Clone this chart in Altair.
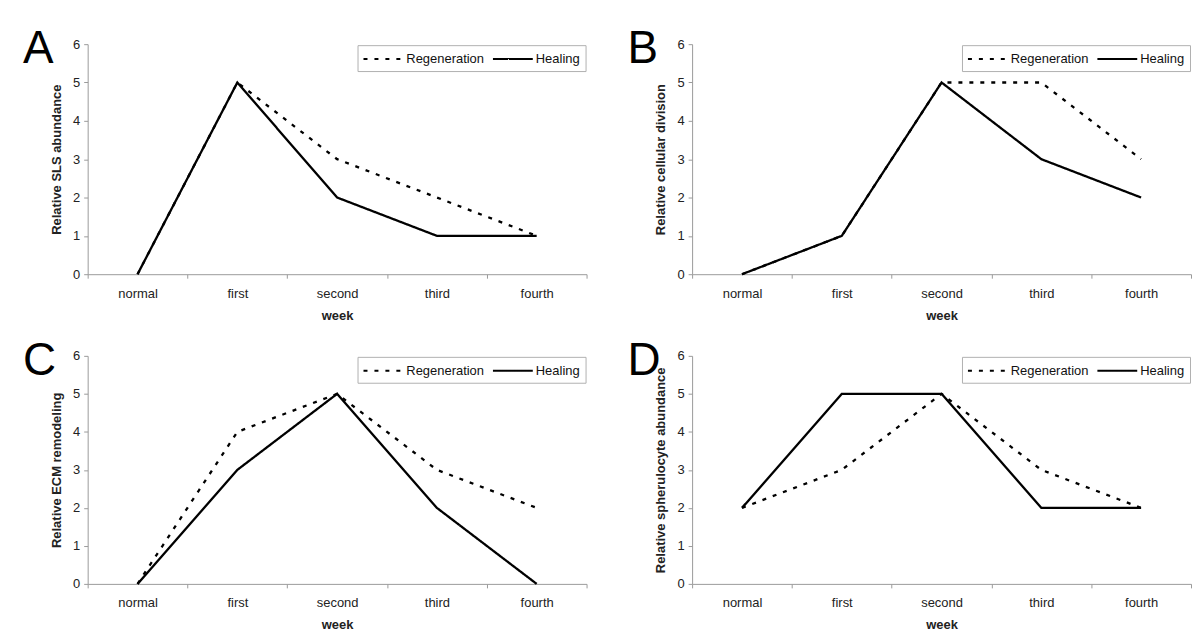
import altair as alt
import pandas as pd

weeks = ["normal", "first", "second", "third", "fourth"]
series_names = ["Regeneration", "Healing"]
letters = ["A", "B", "C", "D"]
y_titles = [
    "Relative SLS abundance",
    "Relative cellular division",
    "Relative ECM remodeling",
    "Relative spherulocyte abundance",
]

regen_A = [0, 5, 3, 2, 1]
heal_A = [0, 5, 2, 1, 1]
regen_B = [0, 1, 5, 5, 3]
heal_B = [0, 1, 5, 3, 2]
regen_C = [0, 4, 5, 3, 2]
heal_C = [0, 3, 5, 2, 0]
regen_D = [2, 3, 5, 3, 2]
heal_D = [2, 5, 5, 2, 2]

FONT = "Liberation Sans"
AXIS_GREY = "#9a9a9a"
FS = 13


def panel(letter, ytitle, regen, heal, height):
    df = pd.DataFrame({
        "week": weeks * 2,
        "value": regen + heal,
        "series": ["Regeneration"] * len(weeks) + ["Healing"] * len(weeks),
    })
    lines = alt.Chart(df).mark_line(color="black", strokeWidth=2.3).encode(
        x=alt.X(
            "week:N", sort=weeks,
            scale=alt.Scale(type="band", domain=weeks, paddingInner=0, paddingOuter=0),
            axis=alt.Axis(
                title="week", labelAngle=0, tickBand="extent",
                labelFont=FONT, labelFontSize=FS, labelColor="#222",
                titleFont=FONT, titleFontSize=FS, titleFontWeight="bold", titleColor="#222",
                domainColor=AXIS_GREY, tickColor=AXIS_GREY, tickSize=4,
                labelPadding=9, titlePadding=9, grid=False,
            ),
        ),
        y=alt.Y(
            "value:Q",
            scale=alt.Scale(domain=[0, 6], nice=False),
            axis=alt.Axis(
                title=ytitle, values=[0, 1, 2, 3, 4, 5, 6],
                labelFont=FONT, labelFontSize=FS, labelColor="#222",
                titleFont=FONT, titleFontSize=FS, titleFontWeight="bold", titleColor="#222",
                domainColor=AXIS_GREY, tickColor=AXIS_GREY, tickSize=4,
                labelPadding=4, titlePadding=9, grid=False,
            ),
        ),
        strokeDash=alt.StrokeDash(
            "series:N",
            scale=alt.Scale(domain=series_names, range=[[4, 7], [1, 0]]),
            legend=alt.Legend(
                title=None, orient="top-right", direction="horizontal",
                strokeColor="#b0b0b0", fillColor="white", padding=5, offset=1,
                labelFont=FONT, labelFontSize=FS, labelColor="#111",
                symbolType="M-1,0H4", symbolSize=256, symbolStrokeWidth=2,
                symbolStrokeColor="black", labelOffset=26, columnPadding=4,
            ),
        ),
    )
    label = alt.Chart(pd.DataFrame({"letter": [letter]})).mark_text(
        font=FONT, fontSize=46, align="left", baseline="alphabetic",
        x=-65, y=19, color="black",
    ).encode(text="letter:N")
    return alt.layer(lines, label).properties(width=501, height=height)


pA = panel(letters[0], y_titles[0], regen_A, heal_A, 231)
pB = panel(letters[1], y_titles[1], regen_B, heal_B, 231)
pC = panel(letters[2], y_titles[2], regen_C, heal_C, 229)
pD = panel(letters[3], y_titles[3], regen_D, heal_D, 229)

row1 = alt.hconcat(pA, pB, spacing=40).resolve_legend(strokeDash="independent").resolve_scale(strokeDash="independent")
row2 = alt.hconcat(pC, pD, spacing=40).resolve_legend(strokeDash="independent").resolve_scale(strokeDash="independent")

chart = alt.vconcat(
    row1, row2, spacing=16,
).resolve_legend(strokeDash="independent").resolve_scale(strokeDash="independent").properties(
    padding={"left": 15, "top": 17, "right": 0, "bottom": 0},
    background="white",
).configure_view(stroke=None)

chart.save("out.html", embed_options={"renderer": "svg", "actions": False})
